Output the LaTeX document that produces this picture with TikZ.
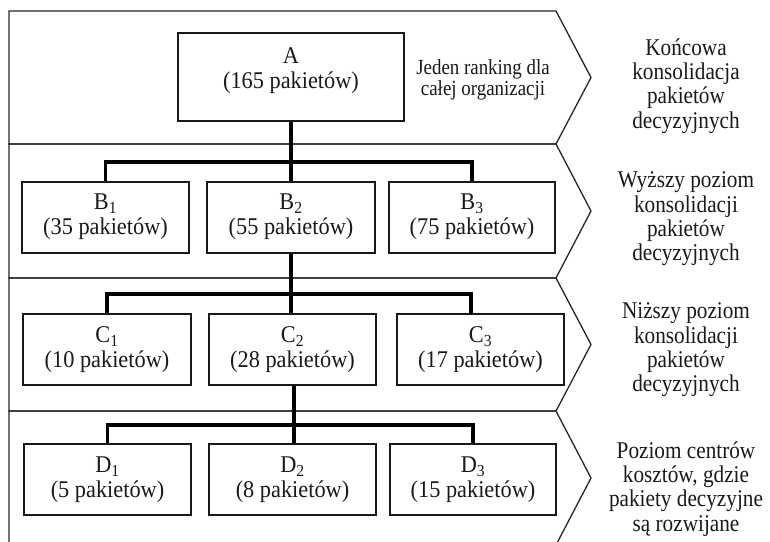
\documentclass[tikz,border=0pt]{standalone}
\usepackage{fontspec}
\setmainfont{Liberation Serif}
\newfontfamily\boxfont[FakeStretch=0.93]{Liberation Serif}
\newfontfamily\sidefont[FakeStretch=0.885]{Liberation Serif}
\newfontfamily\notefont[FakeStretch=0.88]{Liberation Serif}
\begin{document}
\begin{tikzpicture}[x=1pt,y=-1pt,
  band/.style={draw=black!85, line width=1.3pt, line join=miter},
  box/.style={draw=black!90, line width=2pt, minimum height=71pt, inner sep=0pt,
    align=center, text=black!90, font=\boxfont\fontsize{24}{25}\selectfont},
  boxtext/.style={align=center, inner sep=0pt, text=black!90, font=\boxfont\fontsize{24}{25}\selectfont},
  conn/.style={line width=3.4pt, draw=black},
  side/.style={align=center, inner sep=0pt, text=black!90, font=\sidefont\fontsize{24}{24.3}\selectfont},
  note/.style={align=center, inner sep=0pt, text=black!90, font=\notefont\fontsize{21.5}{20.5}\selectfont}]
\clip (0,0) rectangle (770,541);

% bands (chevrons)
\draw[band] (9,11) -- (556,11) -- (591,77.5) -- (556,144) -- (9,144) -- cycle;
\draw[band] (9,144) -- (556,144) -- (591,211) -- (556,278) -- (9,278) -- cycle;
\draw[band] (9,278) -- (556,278) -- (591,344.5) -- (556,411) -- (9,411) -- cycle;
\draw[band] (9,411) -- (556,411) -- (591,478) -- (556,545) -- (9,545) -- cycle;

% level A
\node[box, minimum width=226pt, minimum height=88pt] (A) at (291,77) {};
\node[boxtext] (At) at (291,71) {A\\(165 pakietów)};
\node[note] (note) at (483,80) {Jeden ranking dla\\całej organizacji};

% level B
\node[box, minimum width=167pt] (B1) at (105.5,217) {B\textsubscript{1}\\(35 pakietów)};
\node[box, minimum width=168pt] (B2) at (291,217) {B\textsubscript{2}\\(55 pakietów)};
\node[box, minimum width=166pt] (B3) at (472,217) {B\textsubscript{3}\\(75 pakietów)};

% level C
\node[box, minimum width=168pt] (C1) at (107,349.5) {C\textsubscript{1}\\(10 pakietów)};
\node[box, minimum width=167pt] (C2) at (292.5,349.5) {C\textsubscript{2}\\(28 pakietów)};
\node[box, minimum width=167pt] (C3) at (480.5,349.5) {C\textsubscript{3}\\(17 pakietów)};

% level D
\node[box, minimum width=167pt] (D1) at (107.5,479.5) {D\textsubscript{1}\\(5 pakietów)};
\node[box, minimum width=167pt] (D2) at (292.5,479.5) {D\textsubscript{2}\\(8 pakietów)};
\node[box, minimum width=166pt] (D3) at (473,479.5) {D\textsubscript{3}\\(15 pakietów)};

% connector bars
\coordinate (barB) at (291,162);
\coordinate (barC) at (291,294);
\coordinate (barD) at (294,425);
\coordinate (C3top) at (471,314);

\draw[conn] (A.south) -- (B2.north);
\draw[conn] (B1.north) |- (barB) -| (B3.north);
\draw[conn] (B2.south) -- (B2.south |- C2.north);
\draw[conn] (C1.north) |- (barC) -| (C3top);
\draw[conn] ([xshift=1.5pt]C2.south) -- ([xshift=1.5pt]D2.north);
\draw[conn] (D1.north) |- (barD) -| (D3.north);

% side labels
\node[side] (s1) at (686,86) {Końcowa\\konsolidacja\\pakietów\\decyzyjnych};
\node[side] (s2) at (686,219) {Wyższy poziom\\konsolidacji\\pakietów\\decyzyjnych};
\node[side] (s3) at (686,350) {Niższy poziom\\konsolidacji\\pakietów\\decyzyjnych};
\node[side] (s4) at (686,489) {Poziom centrów\\kosztów, gdzie\\pakiety decyzyjne\\są rozwijane};
\end{tikzpicture}
\end{document}
